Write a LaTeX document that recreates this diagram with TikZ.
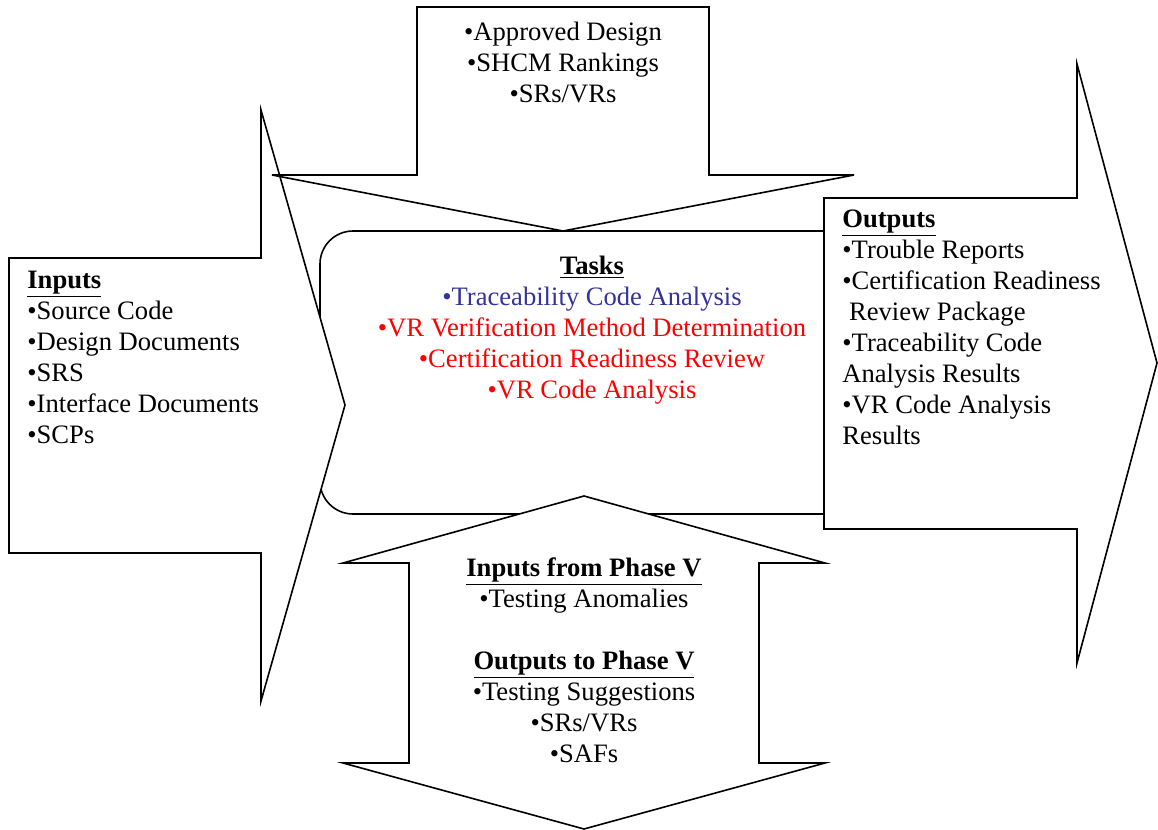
\documentclass[tikz,border=0pt]{standalone}
\usepackage{fontspec}
\setmainfont{Liberation Serif}
\usepackage{xcolor}
\usetikzlibrary{positioning, calc}
\definecolor{TaskBlue}{HTML}{333399}
\definecolor{TaskRed}{HTML}{FF0000}
\tikzset{
    % Outline styles - white fill, thin black line
    blockarrow/.style={
        draw=black,
        fill=white,
        line width=0.8pt,
        line join=miter
    },
    taskbox/.style={
        blockarrow,
        rounded corners=16.5pt
    },
    % Text styles
    textblock/.style={
        inner sep=0pt,
        font=\fontsize{13.3}{15.5}\selectfont
    },
    listleft/.style={
        textblock,
        align=left,
        anchor=west
    },
    listcenter/.style={
        textblock,
        align=center
    }
}
\newcommand{\blockhead}[1]{\underline{\textbf{#1}}}

\begin{document}
\begin{tikzpicture}[x=0.5pt, y=-0.5pt]
    \useasboundingbox (0,0) rectangle (1158,830);

    % Tasks box (right part hidden by the outputs arrow)
    \draw[taskbox] (320,231) rectangle (880,514);

    % Inputs arrow
    \draw[blockarrow] (9,258) -- (261,258) -- (261,110) -- (345,405)
        -- (261,701) -- (261,553) -- (9,553) -- cycle;

    % Design arrow from above
    \draw[blockarrow] (417,7) -- (709,7) -- (709,175) -- (854,175)
        -- (563,231) -- (272,175) -- (417,175) -- cycle;

    % Outputs arrow
    \draw[blockarrow] (824,198) -- (1077,198) -- (1077,64) -- (1157,363)
        -- (1077,663) -- (1077,529) -- (824,529) -- cycle;

    % Phase V double arrow
    \draw[blockarrow] (584,496) -- (825,563) -- (759,563) -- (759,763)
        -- (825,763) -- (584,829) -- (343,763) -- (409,763)
        -- (409,563) -- (343,563) -- cycle;

    % Texts
    \node[listcenter] (design) at (563,62) {%
        •Approved Design\\
        •SHCM Rankings\\
        •SRs/VRs};

    \node[listleft] (inputs) at (27,357) {%
        \blockhead{Inputs}\\
        •Source Code\\
        •Design Documents\\
        •SRS\\
        •Interface Documents\\
        •SCPs};

    \node[listcenter] (tasks) at (592,330) {%
        \blockhead{Tasks}\\
        \textcolor{TaskBlue}{•Traceability Code Analysis}\\
        \textcolor{TaskRed}{•VR Verification Method Determination}\\
        \textcolor{TaskRed}{•Certification Readiness Review}\\
        \textcolor{TaskRed}{•VR Code Analysis}};

    \node[listleft] (outputs) at (842,327) {%
        \blockhead{Outputs}\\
        •Trouble Reports\\
        •Certification Readiness\\
        \ Review Package\\
        •Traceability Code\\
        Analysis Results\\
        •VR Code Analysis\\
        Results};

    \node[listcenter] (phase) at (584,660) {%
        \blockhead{Inputs from Phase V}\\
        •Testing Anomalies\\[15.5pt]
        \blockhead{Outputs to Phase V}\\
        •Testing Suggestions\\
        •SRs/VRs\\
        •SAFs};
\end{tikzpicture}
\end{document}
